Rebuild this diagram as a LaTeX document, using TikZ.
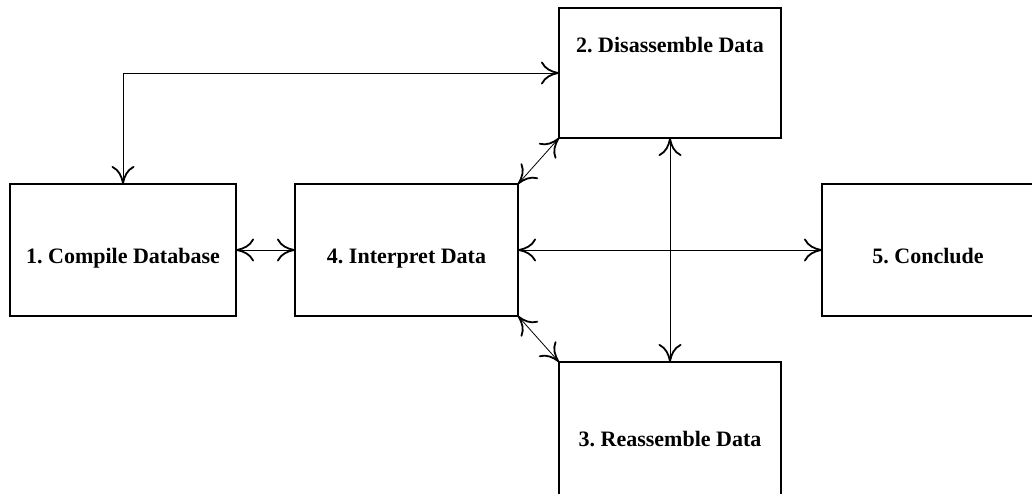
\documentclass[tikz,border=0pt]{standalone}
\usepackage{fontspec}
\setmainfont{Liberation Serif}
\usetikzlibrary{arrows.meta}
\frenchspacing

\begin{document}
\begin{tikzpicture}[x=1pt,y=-1pt,
  box/.style={draw,line width=1.6pt,outer sep=0pt,minimum height=132pt,text height=26pt,text depth=0pt,font=\bfseries\fontsize{22}{26}\selectfont},
  boxlabel/.style={anchor=center,font=\bfseries\fontsize{22}{26}\selectfont},
  link/.style={line width=.8pt,{Computer Modern Rightarrow[length=18pt,width=23pt,line width=1.8pt]}-{Computer Modern Rightarrow[length=18pt,width=23pt,line width=1.8pt]}}]
\useasboundingbox (0,0) rectangle (1032,494);
% boxes
\node[box,minimum width=226pt] (compile) at (123,250) {1. Compile Database};
\node[box,minimum width=223pt] (interpret) at (406.5,250) {4. Interpret Data};
\node[box,minimum width=222pt,minimum height=130pt,
  label={[boxlabel,yshift=-37pt]north:2. Disassemble Data}] (disassemble) at (670,73) {};
\node[box,minimum width=222pt,minimum height=142pt] (reassemble) at (670,433) {3. Reassemble Data};
\node[box,minimum width=212pt] (conclude) at (928,250) {5. Conclude};
% links
\draw[link] (compile.north) |- (disassemble.west);
\draw[link] (compile) -- (interpret);
\draw[link] (interpret.north east) -- (disassemble.south west);
\draw[link] (interpret.south east) -- (reassemble.north west);
\draw[link] (interpret) -- (conclude);
\draw[link] (disassemble) -- (reassemble);
\end{tikzpicture}
\end{document}
